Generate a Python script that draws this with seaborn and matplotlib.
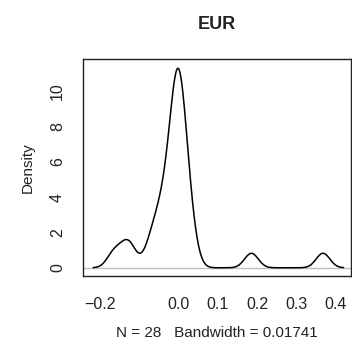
import numpy as np
import pandas as pd
import seaborn as sns
import matplotlib.pyplot as plt

# EUR getirileri (28 gözlem), grafikten okunarak tahmin edildi
left_group = [-0.165, -0.137, -0.121]
main_left = [-0.074, -0.060, -0.049, -0.041, -0.033, -0.026, -0.020,
             -0.0155, -0.012, -0.009, -0.0065, -0.0045, -0.0025, -0.0005]
main_right = [-0.0007, 0.002, 0.0049, 0.0078, 0.011, 0.0147, 0.0189,
              0.0247, 0.0349]
right_group = [0.185, 0.367]
bandwidth = 0.01741

x_ticks = [-0.2, -0.1, 0.0, 0.1, 0.2, 0.3, 0.4]
x_labels = ['\u22120.2', '', '0.0', '0.1', '0.2', '0.3', '0.4']
y_ticks = [0, 2, 4, 6, 8, 10]

data = pd.DataFrame({'EUR': left_group + main_left + main_right + right_group})

sns.set_style('white')
plt.rcParams['font.family'] = ['Liberation Sans', 'DejaVu Sans']

fig = plt.figure(figsize=(3.52, 3.49), dpi=100)
ax = fig.add_axes([0.236, 0.209, 0.761, 0.622])

# R'deki density() gibi sabit bant genişliği
factor = bandwidth / data['EUR'].std(ddof=1)
sns.kdeplot(data=data, x='EUR', bw_method=factor, cut=3, gridsize=512,
            color='black', linewidth=1.1, ax=ax)
ax.axhline(0, color='#bebebe', linewidth=1, zorder=0)

ax.set_xlim(-0.243, 0.438)
ax.set_ylim(-0.47, 11.81)
ax.set_xticks(x_ticks)
ax.set_xticklabels(x_labels)
ax.set_yticks(y_ticks)
ax.set_yticklabels([str(v) for v in y_ticks], rotation=90, va='center')
ax.tick_params(axis='both', direction='out', length=6.5, width=0.8,
               labelsize=11.5, color='#222222', labelcolor='#222222')
ax.tick_params(axis='x', pad=8.5)
ax.tick_params(axis='y', pad=6.5)
for s in ax.spines.values():
    s.set_color('#222222')
    s.set_linewidth(1)

ax.set_title('EUR', fontsize=13, fontweight='bold', pad=21.5, color='#222222')
ax.set_xlabel('N = 28   Bandwidth = 0.01741', fontsize=11, labelpad=10, color='#222222')
ax.set_ylabel('Density', fontsize=11, labelpad=11, color='#222222')

fig.savefig('out.png', dpi=100)
